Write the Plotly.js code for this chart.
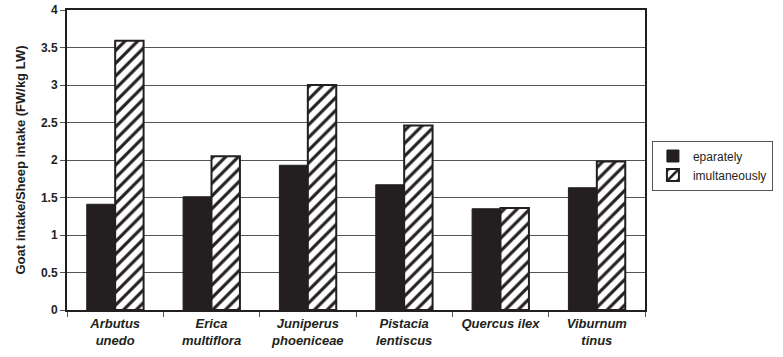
<!DOCTYPE html>
<html>
<head>
<meta charset="utf-8">
<script src="https://cdn.plot.ly/plotly-3.0.1.min.js"></script>
<style>body{margin:0;padding:0;background:#fff;}#chart{width:783px;height:357px;}</style>
</head>
<body>
<div id="chart"></div>
<script>
const categories = ["Arbutus<br>unedo", "Erica<br>multiflora", "Juniperus<br>phoeniceae", "Pistacia<br>lentiscus", "Quercus ilex", "Viburnum<br>tinus"];
const separately = [1.41, 1.51, 1.93, 1.67, 1.35, 1.63];
const simultaneously = [3.59, 2.05, 3.00, 2.46, 1.36, 1.98];
const seriesNames = ["eparately", "imultaneously"];
const yTickVals = [0, 0.5, 1, 1.5, 2, 2.5, 3, 3.5, 4];
const yTickText = ["0", "0.5", "1", "1.5", "2", "2.5", "3", "3.5", "4"];

const font = "Liberation Sans, Arial, sans-serif";
const traces = [
  {
    type: "bar", x: categories, y: separately, name: seriesNames[0],
    marker: {color: "#231f20", line: {color: "#231f20", width: 1}}
  },
  {
    type: "bar", x: categories, y: simultaneously, name: seriesNames[1],
    marker: {color: "#ffffff", line: {color: "#231f20", width: 2},
      pattern: {shape: "/", fgcolor: "#231f20", bgcolor: "#ffffff", size: 9, solidity: 0.35}}
  }
];
const layout = {
  width: 783, height: 357,
  margin: {l: 67, r: 133, t: 10, b: 47},
  paper_bgcolor: "#fff", plot_bgcolor: "#fff",
  barmode: "group", bargap: 0.41, bargroupgap: 0,
  font: {family: font, color: "#231f20", size: 12},
  showlegend: true,
  legend: {x: 1.012, y: 0.565, xanchor: "left", yanchor: "top",
    bordercolor: "#555", borderwidth: 1, font: {family: font, size: 12, color: "#231f20"},
    tracegroupgap: 0, itemwidth: 30},
  xaxis: {
    tickfont: {family: font, size: 13, weight: "bold", style: "italic", color: "#231f20"},
    showline: true, linecolor: "#231f20", linewidth: 2, mirror: true,
    ticks: "outside", showgrid: false, tickson: "boundaries", ticklen: 5, tickcolor: "#555",
    automargin: false
  },
  yaxis: {
    range: [0, 4], tickvals: yTickVals, ticktext: yTickText,
    tickfont: {family: font, size: 12, weight: "bold", color: "#231f20"},
    showline: true, linecolor: "#231f20", linewidth: 2, mirror: true,
    ticks: "outside", ticklen: 5, tickcolor: "#555",
    showgrid: true, gridcolor: "#555", gridwidth: 1, zeroline: false,
    title: {text: "Goat intake/Sheep intake (FW/kg LW)", font: {family: font, size: 13, weight: "bold", color: "#231f20"}, standoff: 12},
    automargin: false
  }
};
Plotly.newPlot("chart", traces, layout, {staticPlot: true});
</script>
</body>
</html>
